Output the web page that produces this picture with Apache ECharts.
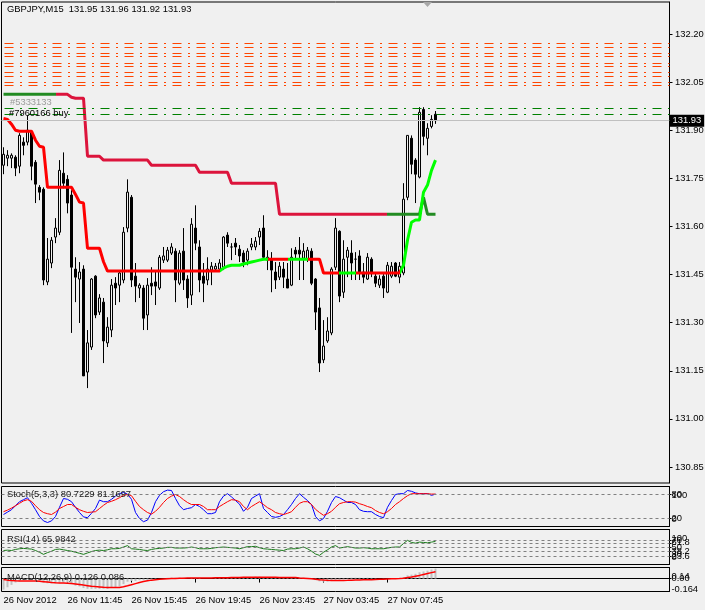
<!DOCTYPE html>
<html><head><meta charset="utf-8">
<script src="https://cdn.jsdelivr.net/npm/echarts@6/dist/echarts.min.js"></script>
<style>html,body{margin:0;padding:0;background:#F0F0F0;}#c{width:705px;height:610px;}</style>
</head><body><div id="c"></div>
<script>
const headerText = 'GBPJPY,M15  131.95 131.96 131.92 131.93';
const stochTitle = 'Stoch(5,3,3) 80.7229 81.1697';
const rsiTitle = 'RSI(14) 65.9842';
const macdTitle = 'MACD(12,26,9) 0.126 0.086';
const orderText = '#7960166 buy';
const hiddenOrderText = '#5333133';
const timeTicks = ['26 Nov 2012','26 Nov 11:45','26 Nov 15:45','26 Nov 19:45','26 Nov 23:45','27 Nov 03:45','27 Nov 07:45'];
const priceTicks = [130.85,131.00,131.15,131.30,131.45,131.60,131.75,131.90,132.05,132.20];
const bidLine = 131.925;
const bidText = '131.93';
const sellLevels = [132.174,132.158,132.1425,132.127,132.1115,132.099,132.083,132.0675,132.052,132.0365];
const buyLevels = [131.965,131.949,131.934];
const stochLevels = [80,20];
const rsiLevels = [70,61.8,50,38.2,23.6];
const rsiLabelOnly = [30];
const macdLabelOnly = [0];
// [open, close, low, high]
const ohlc = [
[131.791,131.825,131.763,131.847],[131.813,131.822,131.788,131.838],[131.813,131.822,131.782,131.828],[131.816,131.782,131.757,131.822],
[131.788,131.884,131.766,131.891],[131.863,131.853,131.822,131.878],[131.863,131.900,131.853,131.947],[131.894,131.788,131.744,131.900],
[131.800,131.732,131.673,131.807],[131.722,131.707,131.682,131.729],[131.716,131.433,131.417,131.722],[131.427,131.498,131.417,131.564],
[131.486,131.557,131.470,131.567],[131.567,131.595,131.548,131.626],[131.582,131.775,131.573,131.807],[131.766,131.735,131.719,131.831],
[131.747,131.673,131.641,131.760],[131.698,131.473,131.268,131.713],[131.467,131.442,131.364,131.504],[131.436,131.458,131.299,131.489],
[131.467,131.134,131.134,131.479],[131.146,131.237,131.096,131.277],[131.224,131.436,131.215,131.439],[131.445,131.324,131.314,131.448],
[131.333,131.377,131.324,131.389],[131.364,131.243,131.174,131.377],[131.237,131.286,131.224,131.317],[131.277,131.417,131.255,131.436],
[131.423,131.408,131.355,131.442],[131.417,131.455,131.364,131.458],[131.433,131.582,131.423,131.598],[131.595,131.707,131.582,131.747],
[131.691,131.433,131.411,131.698],[131.445,131.414,131.364,131.486],[131.408,131.417,131.377,131.423],[131.408,131.314,131.277,131.417],
[131.324,131.417,131.277,131.439],[131.423,131.414,131.386,131.473],[131.427,131.414,131.355,131.458],[131.408,131.504,131.402,131.511],
[131.495,131.508,131.486,131.536],[131.495,131.526,131.489,131.536],[131.517,131.536,131.511,131.548],[131.523,131.433,131.364,131.532],
[131.423,131.517,131.417,131.526],[131.523,131.433,131.402,131.595],[131.436,131.377,131.346,131.448],[131.386,131.607,131.355,131.626],
[131.595,131.548,131.526,131.666],[131.536,131.433,131.395,131.557],[131.445,131.423,131.364,131.486],[131.433,131.467,131.417,131.504],
[131.464,131.476,131.417,131.489],[131.467,131.476,131.458,131.486],[131.467,131.486,131.464,131.498],[131.473,131.567,131.464,131.570],
[131.573,131.548,131.536,131.582],[131.536,131.536,131.495,131.548],[131.548,131.536,131.511,131.564],[131.529,131.508,131.489,131.542],
[131.517,131.489,131.473,131.526],[131.495,131.523,131.479,131.532],[131.536,131.545,131.526,131.564],[131.536,131.554,131.526,131.567],
[131.567,131.585,131.542,131.595],[131.595,131.504,131.495,131.635],[131.495,131.504,131.464,131.526],[131.495,131.464,131.395,131.520],
[131.458,131.433,131.405,131.489],[131.442,131.476,131.433,131.489],[131.467,131.442,131.408,131.489],[131.436,131.408,131.408,131.486],
[131.417,131.504,131.414,131.532],[131.526,131.514,131.501,131.536],[131.526,131.514,131.433,131.567],[131.501,131.523,131.433,131.548],
[131.498,131.526,131.489,131.536],[131.523,131.423,131.417,131.532],[131.436,131.333,131.277,131.439],[131.346,131.174,131.146,131.377],
[131.184,131.227,131.174,131.308],[131.243,131.274,131.237,131.317],[131.268,131.467,131.261,131.473],[131.473,131.595,131.464,131.626],
[131.585,131.383,131.364,131.588],[131.395,131.498,131.377,131.557],[131.504,131.526,131.442,131.536],[131.517,131.486,131.433,131.557],
[131.498,131.498,131.433,131.520],[131.508,131.455,131.433,131.526],[131.458,131.442,131.423,131.486],[131.436,131.504,131.433,131.517],
[131.498,131.455,131.442,131.504],[131.445,131.423,131.411,131.455],[131.417,131.436,131.408,131.448],[131.445,131.408,131.377,131.455],
[131.395,131.479,131.392,131.489],[131.445,131.476,131.439,131.489],[131.486,131.445,131.442,131.489],[131.442,131.476,131.423,131.489],
[131.455,131.685,131.448,131.735],[131.691,131.884,131.682,131.884],[131.875,131.794,131.763,131.884],[131.807,131.763,131.673,131.813],
[131.754,131.956,131.750,131.972],[131.965,131.881,131.853,131.972],[131.875,131.906,131.822,131.922],[131.912,131.934,131.906,131.947],
[131.950,131.930,131.920,131.960]
];
const upperStop = [
132.012,132.012,132.012,132.012,132.012,132.012,132.012,132.012,132.012,132.012,132.012,132.012,132.012,132.012,132.012,132.012,132.012,
132.003,132.000,132.000,132.000,
131.819,131.819,131.819,131.819,
131.807,131.807,131.807,131.807,131.807,131.807,131.807,131.807,131.807,131.807,131.807,131.807,
131.791,131.791,131.791,131.791,131.791,131.791,131.791,131.791,131.791,131.791,131.791,131.791,
131.769,131.769,131.769,131.769,131.769,131.769,131.769,131.769,
131.735,131.735,131.735,131.735,131.735,131.735,131.735,131.735,131.735,131.735,131.735,131.735,
131.638,131.638,131.638,131.638,131.638,131.638,131.638,131.638,131.638,131.638,131.638,131.638,
131.638,131.638,131.638,131.638,131.638,131.638,131.638,131.638,131.638,131.638,131.638,131.638,
131.638,131.638,131.638,131.638,131.638,131.638,131.638,131.638,131.638,131.638,131.638,131.638,
131.691,131.638,131.638,131.638
];
const lowerStop = [
131.937,131.934,131.919,131.900,131.897,131.897,131.897,131.897,131.869,131.850,131.847,
131.722,131.722,131.722,131.722,131.722,131.722,131.722,131.700,131.676,131.673,
131.532,131.532,131.532,131.532,131.490,
131.461,131.461,131.461,131.461,131.461,131.461,131.461,131.461,131.461,131.461,131.461,131.461,131.461,131.461,131.461,
131.461,131.461,131.461,131.461,131.461,131.461,131.461,131.461,131.461,131.461,131.461,131.461,131.461,131.461,
131.470,131.476,131.479,131.479,131.479,131.483,131.486,131.489,131.492,131.495,
131.498,131.498,131.498,131.498,131.498,131.498,131.498,131.498,131.498,131.498,131.498,131.498,131.498,131.498,131.498,
131.455,131.455,131.455,131.455,131.455,131.455,131.455,131.455,131.455,131.455,
131.455,131.455,131.455,131.455,131.455,131.455,131.455,131.455,131.455,131.455,
131.479,131.557,131.613,131.620,131.620,131.707,131.729,131.775,131.807
];
const stochK = [30,36,42,52,62,67,72,58,42,25,14,10,14,25,48,70,68,62,48,35,24,22,33,45,66,62,62,68,76,82,
85,81,68,35,20,12,16,35,62,78,87,91,90,70,52,42,45,47,55,50,42,32,32,35,62,76,82,74,65,56,
38,48,70,76,82,45,35,25,23,25,30,42,55,70,82,73,65,55,25,14,20,38,60,75,72,66,60,60,55,42,
38,37,37,30,25,22,48,65,80,82,82,90,88,84,82,82,82,78,80.72];
const stochD = [37,41,46,52,58,64,67,63,52,42,35,32,30,36,45,50,55,55,48,42,38,35,36,37,45,53,60,63,67,72,
78,80,77,63,50,42,35,31,38,48,60,70,76,80,75,67,60,55,55,55,50,42,42,42,50,56,62,67,66,62,
50,42,50,56,62,55,47,42,35,32,30,33,37,48,58,62,62,55,43,35,28,32,38,48,57,60,62,62,61,57,
54,50,47,40,35,32,37,45,55,62,70,77,82,82,82,82,82,81,81.17];
const rsi = [40,41,40,43,45,46,45,44,40,35,29,34,38,43,44,42,40,38,35,32,29,33,37,40,41,40,42,45,45,46,
50,54,45,44,43,41,40,43,45,46,47,49,49,47,47,47,48,50,48,45,45,45,46,48,49,50,49,48,47,45,
48,51,51,52,48,45,44,43,42,41,40,44,45,45,47,50,45,38,30,26,35,42,50,54,47,49,51,49,47,47,
48,47,45,45,45,45,47,49,50,50,60,69,63,61,64,63,62,64,65.98];
const macdHist = [-0.14,-0.11,-0.08,-0.05,-0.03,-0.02,-0.01,-0.01,-0.02,-0.03,-0.05,-0.06,-0.06,-0.06,-0.05,-0.05,-0.05,-0.07,-0.09,-0.10,
-0.12,-0.13,-0.13,-0.13,-0.13,-0.13,-0.13,-0.12,-0.11,-0.10,-0.07,-0.04,-0.03,-0.03,-0.02,-0.02,-0.02,-0.01,-0.01,0.00,
0.00,0.01,0.01,0.01,0.01,0.01,0.00,0.01,0.01,0.01,0.00,0.00,0.00,0.01,0.01,0.01,0.02,0.02,0.02,0.02,
0.02,0.02,0.02,0.025,0.025,0.02,0.015,0.012,0.01,0.01,0.01,0.008,0.01,0.01,0.01,0.01,0.008,-0.005,-0.02,-0.035,
-0.04,-0.04,-0.03,-0.02,-0.015,-0.01,0.005,0.01,0.01,0.01,0.008,0.01,0.008,0.005,0.0,-0.003,0.0,0.002,0.002,0.003,
0.02,0.04,0.05,0.06,0.08,0.09,0.10,0.115,0.126];
const macdSignal = [-0.013,-0.02,-0.025,-0.028,-0.03,-0.03,-0.03,-0.03,-0.032,-0.035,-0.04,-0.045,-0.05,-0.053,-0.055,-0.056,-0.058,-0.062,-0.068,-0.075,
-0.083,-0.09,-0.097,-0.102,-0.106,-0.11,-0.112,-0.114,-0.114,-0.112,-0.105,-0.092,-0.078,-0.064,-0.05,-0.038,-0.028,-0.02,-0.014,-0.009,
-0.005,-0.002,0.0,0.002,0.004,0.005,0.006,0.007,0.008,0.008,0.008,0.008,0.008,0.009,0.01,0.01,0.011,0.012,0.013,0.014,
0.015,0.016,0.017,0.018,0.018,0.018,0.017,0.016,0.015,0.014,0.013,0.012,0.012,0.012,0.008,0.005,0.002,-0.003,-0.008,-0.014,
-0.019,-0.023,-0.025,-0.026,-0.026,-0.025,-0.023,-0.02,-0.018,-0.017,-0.016,-0.015,-0.014,-0.012,-0.01,-0.008,-0.006,-0.004,-0.002,0.0,
0.005,0.012,0.02,0.03,0.04,0.052,0.063,0.075,0.086];

const SLOTS = 167;
const cats = [];
for (let i = 0; i < SLOTS; i++) cats.push(String(i));

const F = 'Liberation Sans';
const FS = 9.4;
const L = 1.5, W = 668;
const grids = [
  {left: L, width: W, top: 2, height: 481},
  {left: L, width: W, top: 486.5, height: 40},
  {left: L, width: W, top: 529.5, height: 35},
  {left: L, width: W, top: 567.5, height: 24}
].map(g => Object.assign(g, {show: true, borderColor: '#000', borderWidth: 1, backgroundColor: 'transparent', outerBoundsMode: 'none', containLabel: false}));

const tickOn = (i) => i % 16 === 0 && i / 16 < timeTicks.length;
const xAxes = grids.map((g, k) => ({
  type: 'category', gridIndex: k, data: cats, boundaryGap: true,
  show: k === 3,
  axisLine: {show: true, lineStyle: {color: '#000', width: 1}},
  axisTick: {show: true, interval: tickOn, alignWithLabel: true, length: 4, lineStyle: {color: '#000'}},
  axisLabel: {interval: tickOn, formatter: (v, i) => (tickOn(i) ? timeTicks[i / 16] : ''), align: 'left', margin: 4,
    fontFamily: F, fontSize: FS, color: '#000'},
  splitLine: {show: false}
}));

const baseY = {
  type: 'value', position: 'right', scale: true,
  axisLine: {show: true, lineStyle: {color: '#000'}},
  splitLine: {show: false}
};
const rich = {
  t: {fontFamily: F, fontSize: FS, color: '#000', padding: [17, 0, 0, 0]},
  b: {fontFamily: F, fontSize: FS, color: '#000', padding: [0, 0, 15, 0]},
  b2: {fontFamily: F, fontSize: FS, color: '#000', padding: [0, 0, 5, 0]}
};
const labBase = {showMinLabel: true, showMaxLabel: true, hideOverlap: false, fontFamily: F, fontSize: FS, color: '#000', rich: rich};
const yAxes = [
  Object.assign({}, baseY, {gridIndex: 0, min: 130.80, max: 132.30,
    axisTick: {show: true, length: 3, customValues: priceTicks, lineStyle: {color: '#000'}},
    axisLabel: Object.assign({}, labBase, {customValues: priceTicks, margin: 5.5, formatter: v => v.toFixed(2)})}),
  Object.assign({}, baseY, {gridIndex: 1, min: 0, max: 100,
    axisTick: {show: true, length: 2, customValues: stochLevels, lineStyle: {color: '#000'}},
    axisLabel: Object.assign({}, labBase, {customValues: [0, 100], margin: 2,
      formatter: v => v === 100 ? '{t|100}' : '{b|0}'})}),
  Object.assign({}, baseY, {gridIndex: 2, min: 0, max: 100,
    axisTick: {show: true, length: 2, customValues: rsiLevels, lineStyle: {color: '#000'}},
    axisLabel: Object.assign({}, labBase, {customValues: [0, 100], margin: 2,
      formatter: v => v === 100 ? '{t|100}' : '{b|0}'})}),
  Object.assign({}, baseY, {gridIndex: 3, min: -0.164, max: 0.14,
    axisTick: {show: true, length: 2, customValues: [0], lineStyle: {color: '#000'}},
    axisLabel: Object.assign({}, labBase, {customValues: [-0.164, 0.14], margin: 2,
      formatter: v => v === 0.14 ? '{t|0.14}' : '{b2|-0.164}'})})
];

const dashDot = {width: 1, type: [9, 6.5, 2, 6.5], dashOffset: 21};
const levelLines = [];
sellLevels.forEach(v => levelLines.push({yAxis: v, lineStyle: Object.assign({color: '#FF4500'}, dashDot)}));
buyLevels.forEach(v => levelLines.push({yAxis: v, lineStyle: Object.assign({color: '#008000'}, dashDot)}));
levelLines.push({yAxis: bidLine, lineStyle: {color: '#C0C0C0', type: 'solid', width: 1},
  label: {show: true, position: 'end', distance: 0, formatter: bidText, color: '#fff', backgroundColor: '#000',
    padding: [2, 3, 1, 3], fontFamily: F, fontSize: FS}});

const grayDash = {color: '#808080', type: [3, 3], width: 1};
const lvlLabel = (txt) => ({show: true, position: 'end', distance: 2, formatter: txt, color: '#000', fontFamily: F, fontSize: FS});
const fmt = (v) => String(v);
const mkLevels = (lines, labelOnly, f) => ({
  symbol: ['none', 'none'], silent: true, animation: false,
  data: lines.map(v => ({yAxis: v, lineStyle: grayDash, label: lvlLabel(f(v))}))
    .concat(labelOnly.map(v => ({yAxis: v, lineStyle: {color: 'rgba(0,0,0,0)', width: 1, type: 'solid'}, label: lvlLabel(f(v))})))
});

const titleStyle = (c) => ({fontFamily: F, fontSize: FS, fontWeight: 'normal', color: c});
const option = {
  backgroundColor: '#F0F0F0',
  animation: false,
  textStyle: {fontFamily: F},
  title: [
    {text: headerText, left: 7, top: 5, padding: 0, textStyle: titleStyle('#000')},
    {text: hiddenOrderText, left: 10, top: 98, padding: 0, textStyle: titleStyle('#9a9a9a')},
    {text: orderText, left: 9, top: 109, padding: 0, textStyle: titleStyle('#000')},
    {text: stochTitle, left: 7, top: 490, padding: 0, textStyle: titleStyle('#202020')},
    {text: rsiTitle, left: 7, top: 535, padding: 0, textStyle: titleStyle('#202020')},
    {text: macdTitle, left: 7, top: 573, padding: 0, textStyle: titleStyle('#202020')}
  ],
  grid: grids,
  xAxis: xAxes,
  yAxis: yAxes,
  visualMap: [
    {type: 'piecewise', show: false, seriesIndex: 1, dimension: 0,
      pieces: [{lte: 13, color: '#228B22'}, {gt: 13, lte: 96, color: '#DC143C'}, {gt: 96, color: '#228B22'}]},
    {type: 'piecewise', show: false, seriesIndex: 2, dimension: 0,
      pieces: [{lte: 54, color: '#FF0000'}, {gt: 54, lte: 66, color: '#00FF00'}, {gt: 66, lte: 71, color: '#FF0000'},
        {gt: 71, lte: 76, color: '#00FF00'}, {gt: 76, lte: 84, color: '#FF0000'}, {gt: 84, lte: 88, color: '#00FF00'},
        {gt: 88, lte: 99, color: '#FF0000'}, {gt: 99, color: '#00FF00'}]}
  ],
  graphic: [
    {type: 'polygon', shape: {points: [[423, 2], [432, 2], [427.5, 7]]}, style: {fill: '#A8A8A8'}, silent: true}
  ],
  series: [
    {type: 'candlestick', xAxisIndex: 0, yAxisIndex: 0, data: ohlc, barWidth: 2, z: 2,
      itemStyle: {color: '#F0F0F0', color0: '#000000', borderColor: '#000000', borderColor0: '#000000', borderWidth: 1},
      markLine: {symbol: ['none', 'none'], silent: true, animation: false, label: {show: false}, data: levelLines}},
    {type: 'line', xAxisIndex: 0, yAxisIndex: 0, data: upperStop, showSymbol: false, z: 4,
      lineStyle: {width: 3}},
    {type: 'line', xAxisIndex: 0, yAxisIndex: 0, data: lowerStop, showSymbol: false, z: 4,
      lineStyle: {width: 3}},
    {type: 'line', xAxisIndex: 1, yAxisIndex: 1, data: stochK, showSymbol: false, z: 4,
      lineStyle: {width: 1, color: '#0000FF'}, itemStyle: {color: '#0000FF'}, markLine: mkLevels(stochLevels, [], fmt)},
    {type: 'line', xAxisIndex: 1, yAxisIndex: 1, data: stochD, showSymbol: false, z: 4,
      lineStyle: {width: 1, color: '#FF0000'}, itemStyle: {color: '#FF0000'}},
    {type: 'line', xAxisIndex: 2, yAxisIndex: 2, data: rsi, showSymbol: false, z: 4,
      lineStyle: {width: 1, color: '#1A7A1A'}, itemStyle: {color: '#1A7A1A'}, markLine: mkLevels(rsiLevels, rsiLabelOnly, fmt)},
    {type: 'bar', xAxisIndex: 3, yAxisIndex: 3, data: macdHist, barWidth: 2, z: 2,
      itemStyle: {color: '#C0C0C0'}},
    {type: 'line', xAxisIndex: 3, yAxisIndex: 3, data: macdSignal, showSymbol: false, z: 4,
      lineStyle: {width: 1.5, color: '#FF0000'}, itemStyle: {color: '#FF0000'}, markLine: mkLevels([], macdLabelOnly, v => v.toFixed(2))}
  ]
};
const chart = echarts.init(document.getElementById('c'), null, {renderer: 'canvas'});
chart.setOption(option);
</script></body></html>
